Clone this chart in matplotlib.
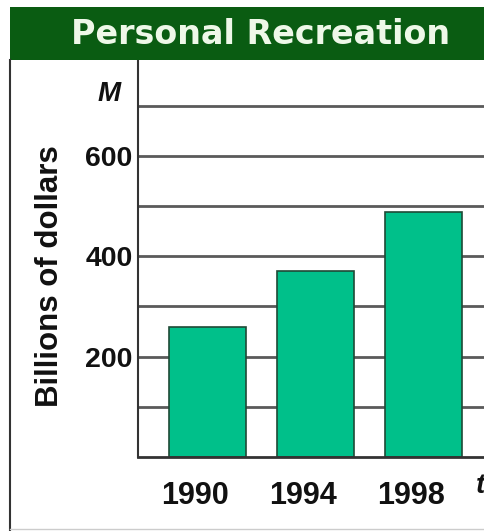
import matplotlib
matplotlib.use("Agg")
import matplotlib.pyplot as plt
from matplotlib.patches import Rectangle
from matplotlib.lines import Line2D
from matplotlib.transforms import ScaledTranslation

years = ["1990", "1994", "1998"]
spending = [260, 371, 488]
yticks = [200, 400, 600]
grid_levels = [100, 200, 300, 400, 500, 600, 700]

W, H = 484, 531
fig = plt.figure(figsize=(W / 100, H / 100), dpi=100)
plt.rcParams['font.family'] = ['Liberation Sans', 'DejaVu Sans']

def fx(px):
    return px / W

def fy(py):
    return 1 - py / H

# title banner
fig.patches.append(Rectangle((fx(10), fy(60)), fx(484) - fx(10), fy(7) - fy(60),
                             transform=fig.transFigure, facecolor="#0a5c12",
                             edgecolor="none", zorder=0))
fig.text(fx(261), fy(35), "Personal Recreation", color="#eef8e8", fontsize=24,
         fontweight="bold", ha="center", va="center", family="DejaVu Sans")

# outer frame lines
fig.lines.append(Line2D([fx(10), fx(10)], [fy(60), fy(531)], transform=fig.transFigure,
                        color="#333333", lw=1.5))
fig.lines.append(Line2D([fx(10), fx(484)], [fy(529), fy(529)], transform=fig.transFigure,
                        color="#cccccc", lw=1.0))

ax = fig.add_axes([fx(138), fy(457), fx(484) - fx(138), fy(60) - fy(457)])
ax.set_facecolor("none")
pos = list(range(len(years)))
for g in grid_levels:
    ax.axhline(g, color="#5a5a5a", lw=2.0, zorder=1)
ax.bar(pos, spending, width=0.71, color="#00c08a", edgecolor="#1f4a36", lw=1.2, zorder=2)
ax.set_xlim(-0.64, 2.56)
ax.set_ylim(0, 791)

for s in ["top", "right"]:
    ax.spines[s].set_visible(False)
ax.spines["left"].set_color("#333333")
ax.spines["left"].set_linewidth(1.5)
ax.spines["bottom"].set_color("#333333")
ax.spines["bottom"].set_linewidth(2.0)
ax.spines["bottom"].set_zorder(3)

ax.set_yticks(yticks)
ax.set_yticklabels([str(v) for v in yticks], fontsize=20.5, fontweight="bold", color="#111111")
ax.tick_params(axis="y", length=0, pad=4)
ax.set_xticks(pos)
ax.set_xticklabels(years, fontsize=22, fontweight="bold", color="#111111")
ax.tick_params(axis="x", length=0, pad=17)
shift = ScaledTranslation(-12 / 100, 0, fig.dpi_scale_trans)
for lab in ax.get_xticklabels():
    lab.set_transform(lab.get_transform() + shift)

fig.text(fx(121), fy(94), "M", fontsize=20, fontweight="bold", style="italic",
         ha="right", va="center", color="#111111")
fig.text(fx(476), fy(486), "t", fontsize=20, fontweight="bold", style="italic",
         ha="left", va="center", color="#111111")
fig.text(fx(50), fy(276), "Billions of dollars", fontsize=22.5, fontweight="bold",
         rotation=90, ha="center", va="center", color="#111111")

fig.savefig("out.png", dpi=100)
